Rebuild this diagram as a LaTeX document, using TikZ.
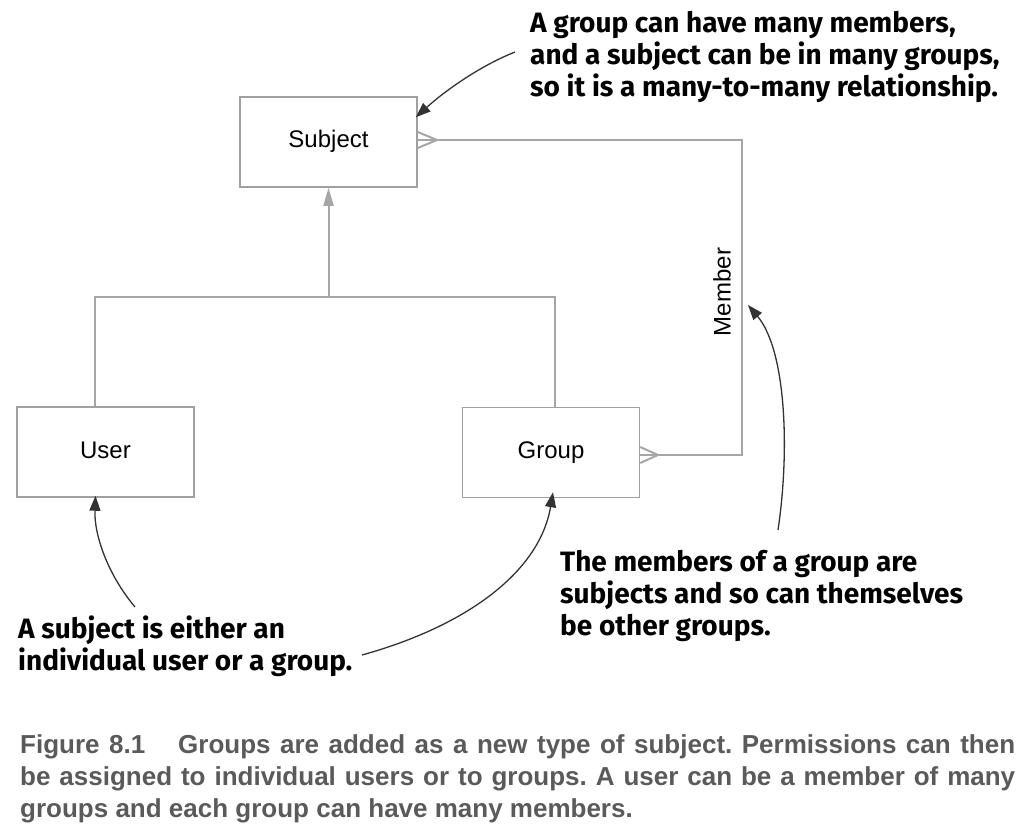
\documentclass[tikz,border=0pt]{standalone}
\usepackage{fontspec}
\setmainfont{Liberation Sans}
\newfontfamily\annfont{Fira Sans}
\newfontfamily\capfont{Liberation Sans}
\usetikzlibrary{arrows.meta}
\definecolor{linegray}{HTML}{A6A6A6}
\definecolor{boxgray}{HTML}{A0A0A0}
\definecolor{capgray}{HTML}{5A5A5A}
\definecolor{anngray}{HTML}{333333}
\frenchspacing
\tikzset{
  entity/.style={draw=boxgray, line width=1.5pt, minimum width=177pt, minimum height=90pt, inner sep=0pt, text height=17pt, text depth=5pt, font=\fontsize{24}{28}\selectfont},
  conn/.style={draw=linegray, line width=2pt},
  annarrow/.style={draw=anngray, line width=1.3pt, -{Triangle[length=15pt,width=11pt]}},
  anntext/.style={font=\annfont\bfseries\fontsize{28}{32}\selectfont, align=left, inner sep=0pt, anchor=base west},
  captext/.style={font=\capfont\bfseries\fontsize{26}{32}\selectfont, text=capgray, align=left, inner sep=0pt, anchor=base west}
}
\begin{document}
\begin{tikzpicture}[x=1pt,y=-1pt]
\useasboundingbox (0,0) rectangle (1028,840);
% entities
\node[entity] (Subject) at (328.5,142) {Subject};
\node[entity] (User) at (105.5,452) {User};
\node[entity] (Group) at (551,452.5) {Group};
% inheritance tree
\coordinate (jl) at (95,297);
\coordinate (jr) at (555,297);
\draw[conn] (User.north -| jl) -- (jl) -- (jr) -- (Group.north -| jr);
\draw[conn, -{Triangle[length=18pt,width=10pt]}] (jl -| Subject.south) -- (Subject.south);
% member relation
\coordinate (m1) at (742,140);
\coordinate (m2) at (742,455);
\draw[conn] (Subject.east |- m1) -- (m1) -- (m2) -- (Group.east |- m2);
\coordinate (cfs) at (437,140);
\draw[conn] ([yshift=8pt]Subject.east |- m1) -- (cfs) -- ([yshift=-8pt]Subject.east |- m1);
\coordinate (cfg) at (658,455);
\draw[conn] ([yshift=8pt]Group.east |- m2) -- (cfg) -- ([yshift=-8pt]Group.east |- m2);
\node[font=\fontsize{24}{28}\selectfont, rotate=90, inner sep=0pt] (memlabel) at (722,292) {Member};
% annotations (base anchor = last line baseline)
\node[anntext] (noteTop) at (530,97) {A group can have many members,\\and a subject can be in many groups,\\so it is a many-to-many relationship.};
\node[anntext] (noteMem) at (560,635) {The members of a group are\\subjects and so can themselves\\be other groups.};
\node[anntext] (noteUser) at (18,670) {A subject is either an\\individual user or a group.};
\coordinate (aTop) at (515,52);
\coordinate (aMem) at (778,530);
\coordinate (aUser) at (135,607);
\coordinate (aGroup) at (362,655);
\draw[annarrow] (aTop) .. controls (480,66) and (446,90) .. ([xshift=-2pt,yshift=-21pt]Subject.north east);
\draw[annarrow] (aMem) .. controls (790,450) and (786,350) .. (748,305);
\draw[annarrow] (aUser) .. controls (108,575) and (94,535) .. ([xshift=-10pt,yshift=2pt]User.south);
\draw[annarrow] (aGroup) .. controls (470,625) and (540,570) .. ([xshift=2pt,yshift=6pt]Group.south);
% caption
\node[captext] (cap1) at (20,753) {\makebox[995pt][s]{Figure 8.1\hspace{0.9em} Groups are added as a new type of subject. Permissions can then}};
\node[captext] (cap2) at (20,785) {\makebox[995pt][s]{be assigned to individual users or to groups. A user can be a member of many}};
\node[captext] (cap3) at (20,817) {groups and each group can have many members.};
\end{tikzpicture}
\end{document}
